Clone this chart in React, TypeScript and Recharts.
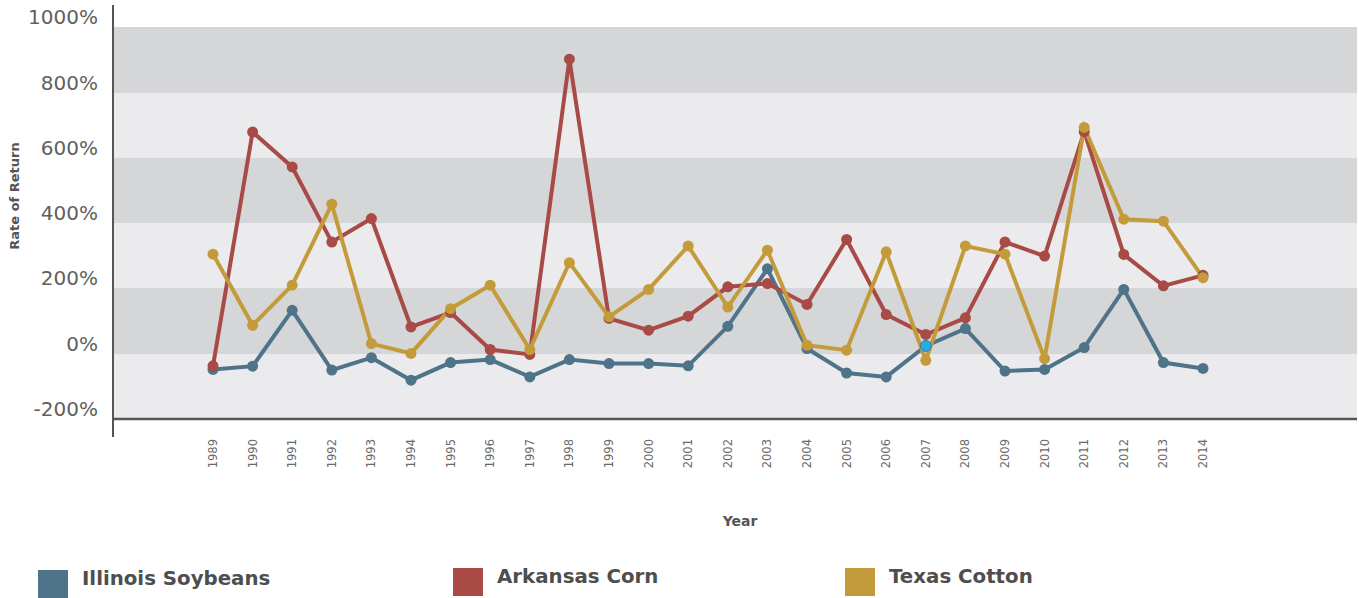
import React from 'react';
import { LineChart, Line, XAxis, YAxis, CartesianGrid, ReferenceLine } from 'recharts';

const years = ['1989','1990','1991','1992','1993','1994','1995','1996','1997','1998','1999','2000','2001','2002','2003','2004','2005','2006','2007','2008','2009','2010','2011','2012','2013','2014'];
const illinoisSoybeans = [-48,-38,133,-50,-12,-81,-27,-18,-71,-18,-30,-30,-37,84,260,16,-59,-71,24,77,-53,-48,19,197,-27,-45];
const arkansasCorn = [-37,679,572,342,414,82,126,13,-2,902,108,72,115,205,215,151,350,120,59,110,342,299,680,304,208,240];
const texasCotton = [305,87,210,458,31,1,138,210,13,279,113,197,330,143,317,26,11,312,-20,330,305,-15,693,412,406,233];
const highlightYear = '2007';

const yTicks = [-200, 0, 200, 400, 600, 800, 1000];
// stripes from top to bottom: above 1000, 800-1000, 600-800, 400-600, 200-400, 0-200, -200-0, below -200
const stripeFills = ['#ffffff', '#d5d6d8', '#ebebed', '#d5d6d8', '#ebebed', '#d5d6d8', '#ebebed', '#ffffff'];

const series = [
  { key: 'illinois', name: 'Illinois Soybeans', color: '#4f7389' },
  { key: 'arkansas', name: 'Arkansas Corn', color: '#a84a45' },
  { key: 'texas', name: 'Texas Cotton', color: '#c49b3a' },
];

const data = years.map((y, i) => ({
  year: y,
  illinois: illinoisSoybeans[i],
  arkansas: arkansasCorn[i],
  texas: texasCotton[i],
}));

const FONT = '"DejaVu Sans", sans-serif';

const YTick = (props: any) => {
  const { y, payload } = props;
  return (
    <text x={98} y={y - 10} dy="0.35em" textAnchor="end" fill="#606060" fontSize={20} fontFamily={FONT}>
      {`${payload.value}%`}
    </text>
  );
};

const XTick = (props: any) => {
  const { x, y, payload } = props;
  return (
    <g transform={`translate(${x},${y})`}>
      <text x={-2} y={0} dy="0.35em" textAnchor="end" transform="rotate(-90)" fill="#6a6a6a" fontSize={11.5} fontFamily={FONT}>
        {payload.value}
      </text>
    </g>
  );
};

const makeDot = (color: string, highlight: boolean) => (props: any) => {
  const { cx, cy, payload, index } = props;
  if (cx == null || cy == null) return <g key={index} />;
  if (highlight && payload.year === highlightYear) {
    return <circle key={index} cx={cx} cy={cy} r={5.5} fill="#29abe2" stroke="#2b7fa8" strokeWidth={1} />;
  }
  return <circle key={index} cx={cx} cy={cy} r={5.5} fill={color} stroke="none" />;
};

export default function App() {
  return (
    <div style={{ position: 'absolute', left: 0, top: 0, width: 1359, height: 598, background: '#fff' }}>
      <LineChart width={1359} height={598} data={data} margin={{ top: 5, right: 2, left: 0, bottom: 61 }}>
        <CartesianGrid
          vertical={false}
          horizontal
          stroke="none"
          strokeOpacity={0}
          horizontalFill={stripeFills}
          fillOpacity={1}
        />
        <XAxis
          dataKey="year"
          type="category"
          padding={{ left: 100, right: 154 }}
          axisLine={false}
          tickLine={false}
          tickSize={0}
          tickMargin={0}
          height={100}
          interval={0}
          tick={<XTick />}
          label={({ viewBox }: any) => (
            <text x={740} y={viewBox.y + 84} textAnchor="middle" dy="0.35em" fill="#555" fontSize={14} fontWeight={700} fontFamily={FONT}>
              Year
            </text>
          )}
        />
        <YAxis
          type="number"
          domain={[-255, 1068]}
          ticks={yTicks}
          allowDataOverflow
          width={113}
          axisLine={{ stroke: '#555', strokeWidth: 2 }}
          tickLine={false}
          tick={<YTick />}
          label={() => (
            <text x={14} y={196} transform="rotate(-90 14 196)" textAnchor="middle" dy="0.35em" fill="#555" fontSize={13} fontWeight={700} fontFamily={FONT}>
              Rate of Return
            </text>
          )}
        />
        <ReferenceLine y={-200} stroke="#555" strokeWidth={2.5} ifOverflow="visible" />
        {series.map((s) => (
          <Line
            key={s.key}
            dataKey={s.key}
            name={s.name}
            type="linear"
            stroke={s.color}
            strokeWidth={4}
            dot={makeDot(s.color, s.key === 'illinois')}
            activeDot={false}
            isAnimationActive={false}
          />
        ))}
      </LineChart>
      {series.map((s, i) => (
        <div
          key={s.key}
          style={{
            position: 'absolute',
            left: [38, 453, 845][i],
            top: [570, 568, 568][i],
            display: 'flex',
            alignItems: 'center',
            fontFamily: FONT,
            fontWeight: 700,
            fontSize: 19.8,
            color: '#4e4e4e',
          }}
        >
          <div style={{ width: 30, height: 28, background: s.color, marginRight: 14 }} />
          <span style={{ position: 'relative', top: -6 }}>{s.name}</span>
        </div>
      ))}
    </div>
  );
}
